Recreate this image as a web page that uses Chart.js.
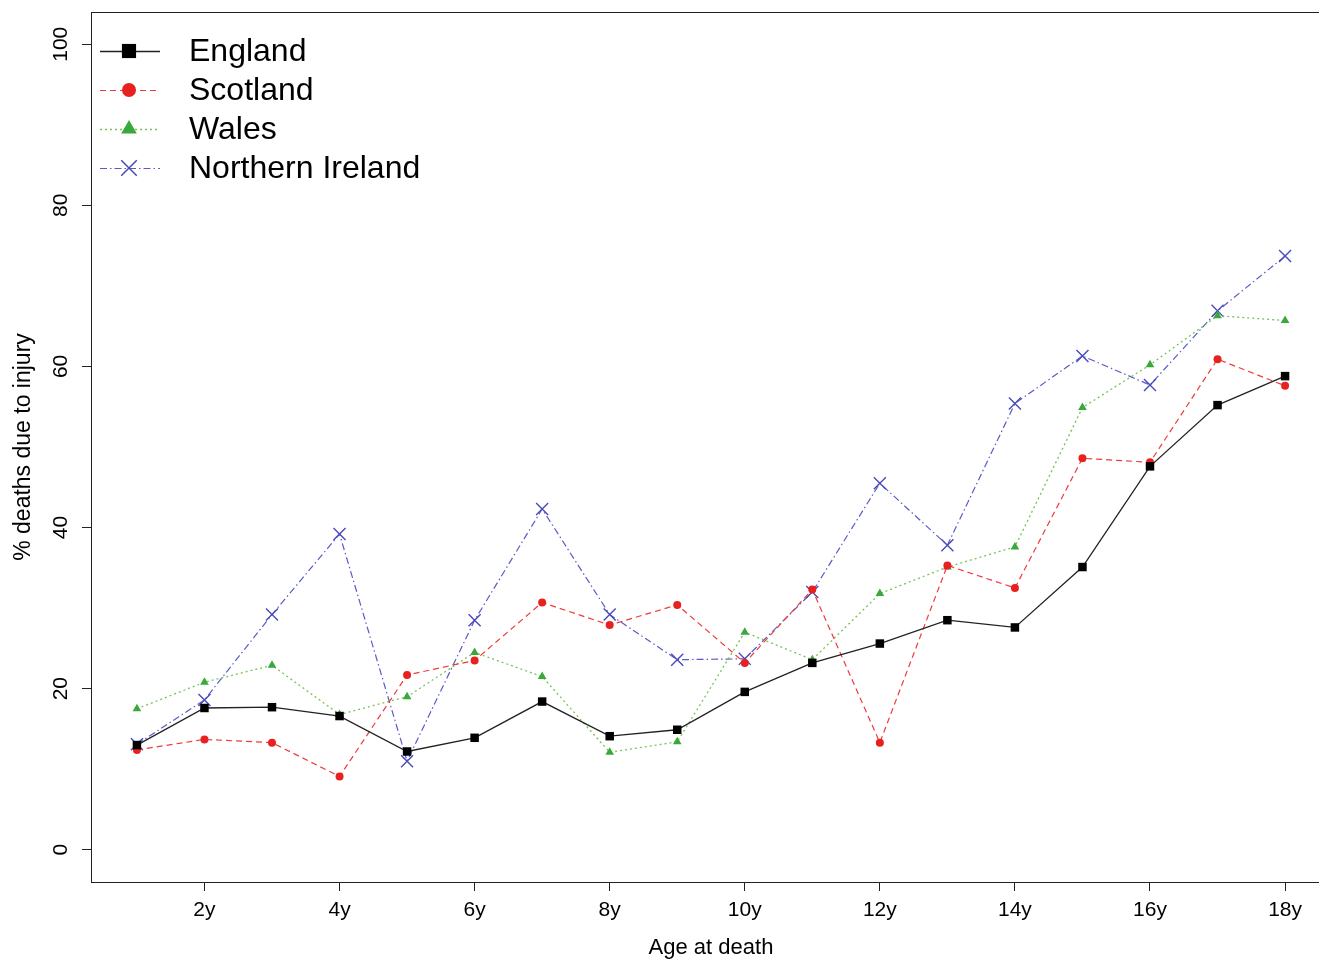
<!DOCTYPE html>
<html>
<head>
<meta charset="utf-8">
<script src="https://cdn.jsdelivr.net/npm/chart.js@4/dist/chart.umd.min.js"></script>
<style>
  html, body { margin: 0; padding: 0; background: #fff; overflow: hidden; }
  #wrap { position: relative; width: 1345px; height: 961px; }
</style>
</head>
<body>
<div id="wrap"><canvas id="c" width="1345" height="961"></canvas></div>
<script>
// ---- data ----
const ages = [1,2,3,4,5,6,7,8,9,10,11,12,13,14,15,16,17,18];
const xTickValues = [2,4,6,8,10,12,14,16,18];
const xTickLabels = ['2y','4y','6y','8y','10y','12y','14y','16y','18y'];
const yTickValues = [0,20,40,60,80,100];
const seriesNames = ['England','Scotland','Wales','Northern Ireland'];
const england  = [13.0,17.6,17.7,16.6,12.2,13.9,18.4,14.1,14.9,19.6,23.2,25.6,28.5,27.6,35.1,47.6,55.2,58.8];
const scotland = [12.4,13.7,13.3, 9.1,21.7,23.5,30.7,27.9,30.4,23.2,32.3,13.3,35.3,32.5,48.6,48.1,60.9,57.6];
const wales    = [17.5,20.8,22.9,16.8,19.0,24.5,21.5,12.1,13.4,27.0,23.6,31.8,35.1,37.6,54.9,60.2,66.3,65.7];
const nireland = [13.1,18.6,29.2,39.2,11.0,28.5,42.3,29.2,23.6,23.7,32.0,45.5,37.8,55.4,61.3,57.7,66.9,73.7];

const FONT = "'Liberation Sans', Arial, Helvetica, sans-serif";

const styles = [
  { line: '#222222', point: '#000000', dash: [], pointStyle: 'rect', radius: 6, legendRadius: 10, bw: 1.3 },
  { line: '#f03a3a', point: '#e82020', dash: [6,4], pointStyle: 'circle', radius: 4, legendRadius: 7, bw: 1.2 },
  { line: '#74c455', point: '#3aa83a', dash: [2,3], pointStyle: 'triangle', radius: 5, legendRadius: 9, bw: 1.3 },
  { line: '#5a5ac8', point: '#4a4ab8', dash: [7,3,1.5,3], pointStyle: 'crossRot', radius: 8.5, legendRadius: 11, bw: 1.2 }
];
const seriesData = [england, scotland, wales, nireland];

const datasets = seriesData.map((vals, i) => {
  const s = styles[i];
  return {
    label: seriesNames[i],
    data: ages.map((a, j) => ({ x: a, y: vals[j] })),
    borderColor: s.line,
    borderWidth: s.bw,
    borderDash: s.dash,
    pointStyle: s.pointStyle,
    pointRadius: s.radius,
    pointBackgroundColor: s.point,
    pointBorderColor: s.point,
    pointBorderWidth: s.pointStyle === 'crossRot' ? 1.4 : 0,
    fill: false,
    tension: 0
  };
});

const boxPlugin = {
  id: 'box',
  afterDraw(chart) {
    const { ctx, chartArea: a } = chart;
    ctx.save();
    ctx.strokeStyle = '#222';
    ctx.lineWidth = 1;
    ctx.strokeRect(Math.round(a.left) + 0.5, Math.round(a.top) + 0.5, Math.round(a.right - a.left), Math.round(a.bottom - a.top));
    ctx.restore();
  }
};

const legendPlugin = {
  id: 'customLegend',
  afterDraw(chart) {
    const ctx = chart.ctx;
    const x0 = 100, x1 = 160, xm = 129, tx = 189, y0 = 51, dy = 39;
    ctx.save();
    chart.data.datasets.forEach((ds, i) => {
      const s = styles[i];
      const y = y0 + i * dy;
      ctx.strokeStyle = s.line;
      ctx.lineWidth = s.bw;
      ctx.setLineDash(s.dash);
      ctx.beginPath();
      ctx.moveTo(x0, y + 0.5);
      ctx.lineTo(x1, y + 0.5);
      ctx.stroke();
      ctx.setLineDash([]);
      ctx.fillStyle = s.point;
      ctx.strokeStyle = s.point;
      ctx.lineWidth = s.pointStyle === 'crossRot' ? 1.5 : 0.01;
      Chart.helpers.drawPoint(ctx, { pointStyle: s.pointStyle, radius: s.legendRadius, rotation: 0, borderWidth: ctx.lineWidth }, xm, y);
      ctx.fillStyle = '#000';
      ctx.font = '32px ' + FONT;
      ctx.textBaseline = 'middle';
      ctx.textAlign = 'left';
      ctx.fillText(ds.label, tx, y + 1);
    });
    ctx.restore();
  }
};

new Chart(document.getElementById('c'), {
  type: 'line',
  data: { datasets },
  options: {
    responsive: false,
    animation: false,
    layout: { padding: { top: 12, right: 14, left: 0, bottom: 0 } },
    plugins: { legend: { display: false }, tooltip: { enabled: false } },
    scales: {
      x: {
        type: 'linear',
        min: 0.32,
        max: 18.68,
        afterBuildTicks(scale) { scale.ticks = xTickValues.map(v => ({ value: v })); },
        afterFit(scale) { scale.height = 79; scale.paddingLeft = 0; scale.paddingRight = 0; },
        ticks: {
          callback(v) { const k = xTickValues.indexOf(v); return k >= 0 ? xTickLabels[k] : ''; },
          font: { family: FONT, size: 21 },
          color: '#000',
          padding: 7,
          maxRotation: 0,
          minRotation: 0,
          autoSkip: false
        },
        grid: { drawOnChartArea: false, drawTicks: true, tickLength: 9, color: '#222', lineWidth: 1 },
        border: { display: true, color: '#222', width: 1 },
        title: { display: true, text: 'Age at death', font: { family: FONT, size: 22 }, color: '#000', padding: { top: -3, bottom: 0 } }
      },
      y: {
        type: 'linear',
        min: -4,
        max: 104,
        afterBuildTicks(scale) { scale.ticks = yTickValues.map(v => ({ value: v })); },
        afterFit(scale) { scale.width = 91; scale.paddingTop = 0; scale.paddingBottom = 0; },
        ticks: {
          font: { family: FONT, size: 21 },
          color: '#000',
          padding: 3,
          minRotation: 90,
          maxRotation: 90,
          crossAlign: 'center',
          autoSkip: false
        },
        grid: { drawOnChartArea: false, drawTicks: true, tickLength: 9, color: '#222', lineWidth: 1 },
        border: { display: true, color: '#222', width: 1 },
        title: { display: true, text: '% deaths due to injury', font: { family: FONT, size: 23 }, color: '#000', padding: { top: 10, bottom: 0 } }
      }
    }
  },
  plugins: [boxPlugin, legendPlugin]
});
</script>
</body>
</html>
